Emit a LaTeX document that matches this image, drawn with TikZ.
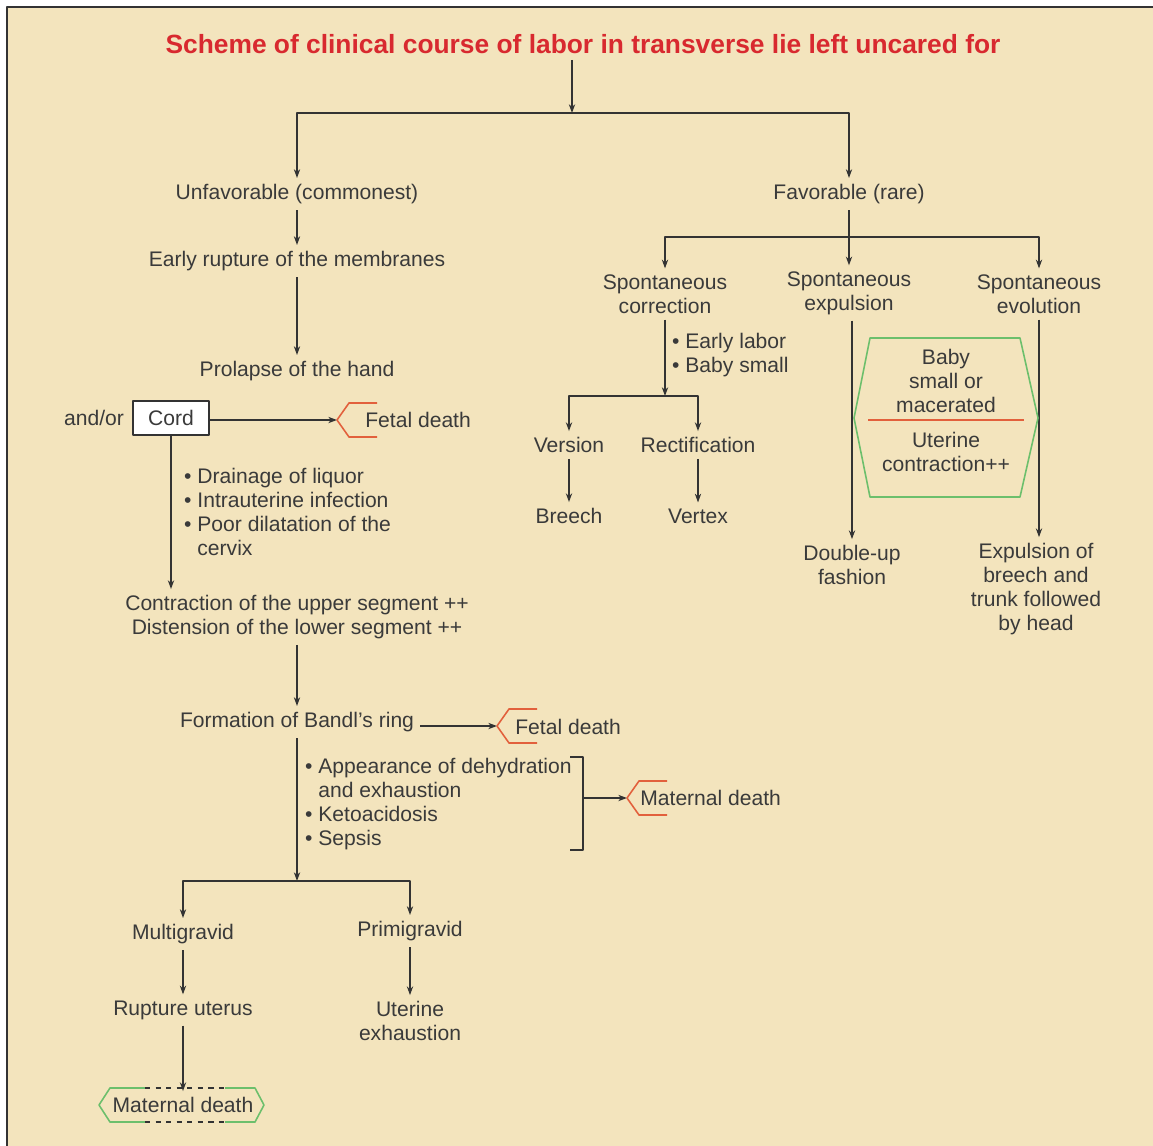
\documentclass[tikz,border=0pt]{standalone}
\usepackage{fontspec}
\setmainfont{Liberation Sans}
\usetikzlibrary{arrows.meta}
\definecolor{bgcream}{HTML}{F3E4BD}
\definecolor{textgray}{HTML}{3A3A3A}
\definecolor{linegray}{HTML}{333333}
\definecolor{titlered}{HTML}{D8292F}
\definecolor{deathred}{HTML}{E2603C}
\definecolor{hexgreen}{HTML}{6CBF6C}
\tikzset{
	txt/.style={text=textgray, font=\fontsize{12}{13.6}\selectfont, align=center},
	conn/.style={draw=linegray, line width=0.7pt},
	redline/.style={draw=deathred, line width=0.9pt},
	greenline/.style={draw=hexgreen, line width=0.9pt},
}
% bracket in front of a "death" label, #1 is its tip
\newcommand{\deathmark}[1]{\draw[redline] ([shift={(40,-17)}]#1) -- ([shift={(12,-17)}]#1) -- (#1) -- ([shift={(12,17)}]#1) -- ([shift={(40,17)}]#1);}
\begin{document}
\begin{tikzpicture}[x=0.02cm, y=-0.02cm, >={Stealth[length=5pt,width=3.6pt]}, line join=round]
	\useasboundingbox (0,0) rectangle (1153,1146);
	\fill[white] (0,0) rectangle (1153,1146);
	\fill[bgcream] (7,7) rectangle (1153,1146);
	\draw[linegray, line width=1.6pt] (7,1146) -- (7,7) -- (1153,7);
	% title
	\node[font=\bfseries\fontsize{15}{18}\selectfont, text=titlered] (title) at (583,44) {Scheme of clinical course of labor in transverse lie left uncared for};
	\coordinate (j1) at (572,113);
	\draw[conn,->] (title.south -| j1) -- (j1);
	% left branch
	\node[txt] (unfav) at (297,194) {Unfavorable (commonest)};
	\node[txt] (early) at (297,261) {Early rupture of the membranes};
	\node[txt] (prolapse) at (297,371) {Prolapse of the hand};
	\node[txt] (andor) at (94,418) {and/or};
	\node[txt, draw=linegray, fill=white, line width=0.7pt, minimum width=1.52cm, minimum height=0.68cm] (cord) at (171,418) {Cord};
	\coordinate (fd1tip) at (337,420);
	\node[txt, inner sep=0pt, anchor=west] (fd1) at (365,420) {Fetal death};
	\node[txt, align=left, anchor=west] (liquor) at (178,512) {• Drainage of liquor\\• Intrauterine infection\\• Poor dilatation of the\\\hphantom{• }cervix};
	\node[txt] (contr) at (297,617) {Contraction of the upper segment ++\\Distension of the lower segment ++};
	\node[txt] (bandl) at (297,722) {Formation of Bandl’s ring};
	\coordinate (fd2tip) at (497,726);
	\node[txt, inner sep=0pt, anchor=west] (fd2) at (515,727) {Fetal death};
	\node[txt, align=left, anchor=west] (dehyd) at (299,804) {• Appearance of dehydration\\\hphantom{• }and exhaustion\\• Ketoacidosis\\• Sepsis};
	\coordinate (mdtip) at (627,798);
	\node[txt, inner sep=0pt, anchor=west] (md1) at (640,798) {Maternal death};
	\coordinate (j5) at (297,881);
	\node[txt] (multi) at (183,934) {Multigravid};
	\node[txt] (primi) at (410,931) {Primigravid};
	\node[txt] (rupt) at (183,1010) {Rupture uterus};
	\node[txt] (exhaust) at (410,1021) {Uterine\\exhaustion};
	\node[txt] (md2) at (183,1105) {Maternal death};
	\draw[conn,->] (j1) -| (unfav);
	\draw[conn,->] (unfav) -- (early);
	\draw[conn,->] (early) -- (prolapse);
	\draw[conn,->] (cord.east |- fd1tip) -- (fd1tip);
	\deathmark{fd1tip}
	\draw[conn,->] (cord) -- (cord |- contr.north);
	\draw[conn,->] (contr) -- (bandl);
	\draw[conn,->] (bandl.east |- fd2tip) -- (fd2tip);
	\deathmark{fd2tip}
	\draw[conn] (570,757) -- (583,757) -- (583,850) -- (570,850);
	\coordinate (brk) at (583,798);
	\draw[conn,->] (brk) -- (mdtip);
	\deathmark{mdtip}
	\draw[conn,->] (bandl) -- (j5);
	\draw[conn,->] (j5) -| (multi);
	\draw[conn,->] (j5) -| (primi);
	\draw[conn,->] (multi) -- (rupt);
	\draw[conn,->] (primi) -- (exhaust);
	\draw[conn,->] (rupt) -- (md2);
	\draw[greenline] (145,1088) -- (110,1088) -- (99,1105) -- (110,1122) -- (145,1122);
	\draw[greenline] (225,1088) -- (255,1088) -- (264,1105) -- (255,1122) -- (225,1122);
	\draw[conn, dashed] (145,1088) -- (225,1088) (145,1122) -- (225,1122);
	% right branch
	\node[txt] (fav) at (849,194) {Favorable (rare)};
	\coordinate (j2) at (849,237);
	\node[txt] (corr) at (665,294) {Spontaneous\\correction};
	\node[txt] (expul) at (849,293) {Spontaneous\\expulsion};
	\node[txt] (evol) at (1039,294) {Spontaneous\\evolution};
	\node[txt, align=left, anchor=west] (early2) at (666,355) {• Early labor\\• Baby small};
	\coordinate (j4) at (665,396);
	\node[txt] (version) at (569,445) {Version};
	\node[txt] (rect) at (698,445) {Rectification};
	\node[txt] (breech) at (569,516) {Breech};
	\node[txt] (vertex) at (698,516) {Vertex};
	\node[txt] (double) at (852,565) {Double-up\\fashion};
	\node[txt] (trunk) at (1036,589) {Expulsion of\\breech and\\trunk followed\\by head};
	\draw[conn,->] (j1) -| (fav);
	\draw[conn,->] (fav) -- (expul);
	\draw[conn,->] (j2) -| (corr);
	\draw[conn,->] (j2) -| (evol);
	\draw[conn,->] (corr) -- (j4);
	\draw[conn,->] (j4) -| (version);
	\draw[conn,->] (j4) -| (rect);
	\draw[conn,->] (version) -- (breech);
	\draw[conn,->] (rect) -- (vertex);
	\draw[conn,->] (expul.south -| double) -- (double);
	\draw[conn,->] (evol) -- (evol |- trunk.north);
	% hexagon between the two lines
	\draw[greenline] (870,338) -- (1020,338) -- (1038,418) -- (1020,497) -- (870,497) -- (854,418) -- cycle;
	\draw[redline] (868,420) -- (1024,420);
	\node[txt] (baby) at (946,381) {Baby\\small or\\macerated};
	\node[txt] (uterine) at (946,452) {Uterine\\contraction++};
\end{tikzpicture}
\end{document}
